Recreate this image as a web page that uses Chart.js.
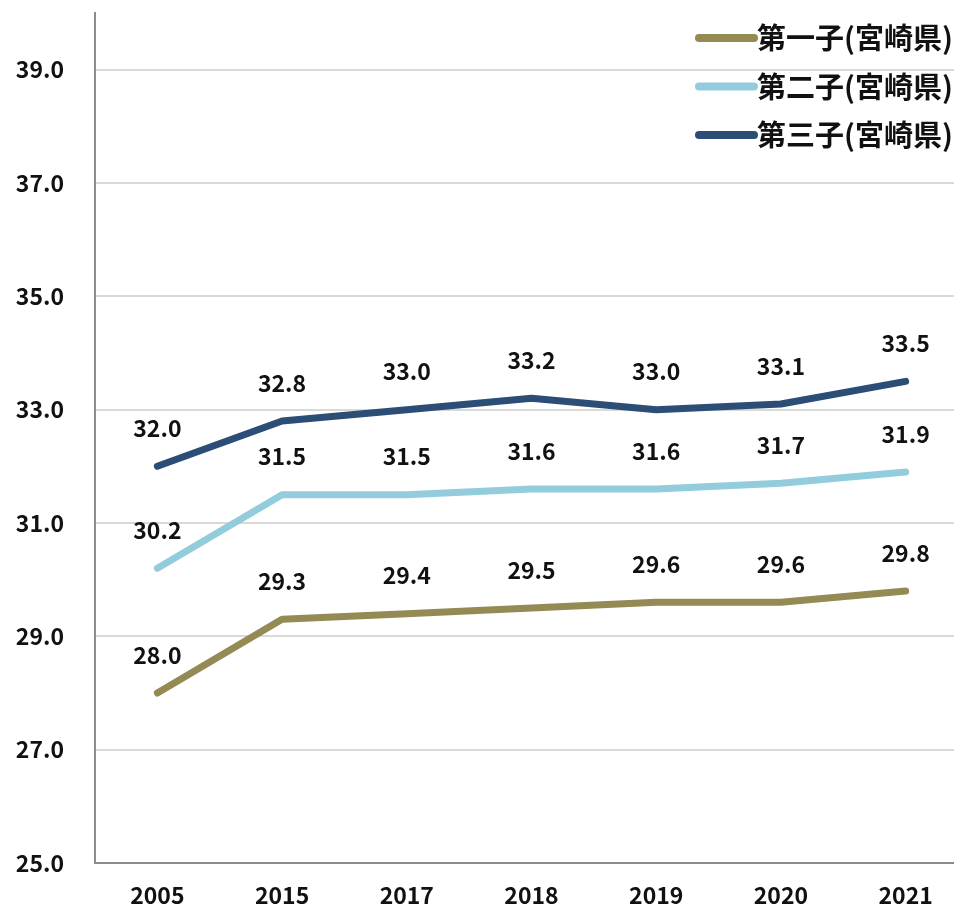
<!DOCTYPE html>
<html>
<head>
<meta charset="utf-8">
<script src="https://cdn.jsdelivr.net/npm/chart.js@4/dist/chart.umd.min.js"></script>
<style>
  html, body { margin: 0; padding: 0; background: #fff; }
  #wrap { width: 954px; height: 906px; }
</style>
</head>
<body>
<div id="wrap"><canvas id="myChart"></canvas></div>
<script>
"use strict";

const years = ["2005", "2015", "2017", "2018", "2019", "2020", "2021"];
const firstChild = [28.0, 29.3, 29.4, 29.5, 29.6, 29.6, 29.8];
const secondChild = [30.2, 31.5, 31.5, 31.6, 31.6, 31.7, 31.9];
const thirdChild = [32.0, 32.8, 33.0, 33.2, 33.0, 33.1, 33.5];
const yTicks = [25, 27, 29, 31, 33, 35, 37, 39];

const FONT = "'Noto Sans CJK JP', 'Noto Sans', sans-serif";

// value labels above each point
const valueLabels = {
  id: "valueLabels",
  afterDatasetsDraw(chart) {
    const ctx = chart.ctx;
    ctx.save();
    ctx.font = "bold 23px " + FONT;
    ctx.fillStyle = "#111";
    ctx.textAlign = "center";
    ctx.textBaseline = "middle";
    chart.data.datasets.forEach((ds, i) => {
      chart.getDatasetMeta(i).data.forEach((pt, j) => {
        ctx.fillText(ds.data[j].toFixed(1), pt.x, pt.y - 38);
      });
    });
    ctx.restore();
  },
};

// legend top right, drawn by hand
const sideLegend = {
  id: "sideLegend",
  afterDraw(chart) {
    const ctx = chart.ctx;
    ctx.save();
    ctx.font = "bold 29px " + FONT;
    ctx.textBaseline = "middle";
    ctx.textAlign = "left";
    chart.data.datasets.forEach((ds, i) => {
      const y = 38 + 48.5 * i;
      ctx.strokeStyle = ds.borderColor;
      ctx.lineWidth = 8;
      ctx.lineCap = "round";
      ctx.beginPath();
      ctx.moveTo(699, y);
      ctx.lineTo(754, y);
      ctx.stroke();
      ctx.fillStyle = "#111";
      ctx.fillText(ds.label, 757, y);
    });
    ctx.restore();
  },
};

// the original plot runs a bit past the right edge of the picture
const widenX = {
  id: "widenX",
  afterLayout(chart) {
    const x = chart.scales.x;
    x.right = x.left + 873;
    x.width = 873;
    x.configure();
  },
};

const config = {
  type: "line",
  data: {
    labels: years,
    datasets: [
      { label: "第一子(宮崎県)", data: firstChild, borderColor: "#948A54" },
      { label: "第二子(宮崎県)", data: secondChild, borderColor: "#93CDDD" },
      { label: "第三子(宮崎県)", data: thirdChild, borderColor: "#2C4D75" },
    ],
  },
  options: {
    responsive: false,
    animation: false,
    borderWidth: 7,
    borderCapStyle: "round",
    borderJoinStyle: "round",
    pointRadius: 0,
    tension: 0,
    layout: {
      autoPadding: false,
      padding: { top: 13, right: 0, left: 0, bottom: 0 },
    },
    plugins: {
      legend: { display: false },
      tooltip: { enabled: false },
    },
    scales: {
      x: {
        offset: true,
        grid: { display: false, drawTicks: false },
        border: { display: true, color: "#8c8c8c", width: 2 },
        ticks: {
          padding: 18,
          color: "#111",
          font: { family: FONT, size: 23, weight: "bold" },
        },
        afterFit: (scale) => {
          scale.height = 43;
          scale.paddingLeft = 0;
          scale.paddingRight = 0;
        },
      },
      y: {
        min: 25,
        max: 40,
        afterBuildTicks: (scale) => {
          scale.ticks = yTicks.map((v) => ({ value: v }));
        },
        grid: { color: "#d9d9d9", lineWidth: 2, drawTicks: false },
        border: { display: true, color: "#8c8c8c", width: 2 },
        ticks: {
          padding: 31,
          color: "#111",
          font: { family: FONT, size: 23, weight: "bold" },
          callback: (value) => Number(value).toFixed(1),
        },
        afterFit: (scale) => {
          scale.width = 95;
          scale.paddingTop = 0;
          scale.paddingBottom = 0;
        },
      },
    },
  },
  plugins: [widenX, valueLabels, sideLegend],
};

const canvas = document.getElementById("myChart");
canvas.width = 954;
canvas.height = 906;
const myChart = new Chart(canvas, config);
</script>
</body>
</html>
